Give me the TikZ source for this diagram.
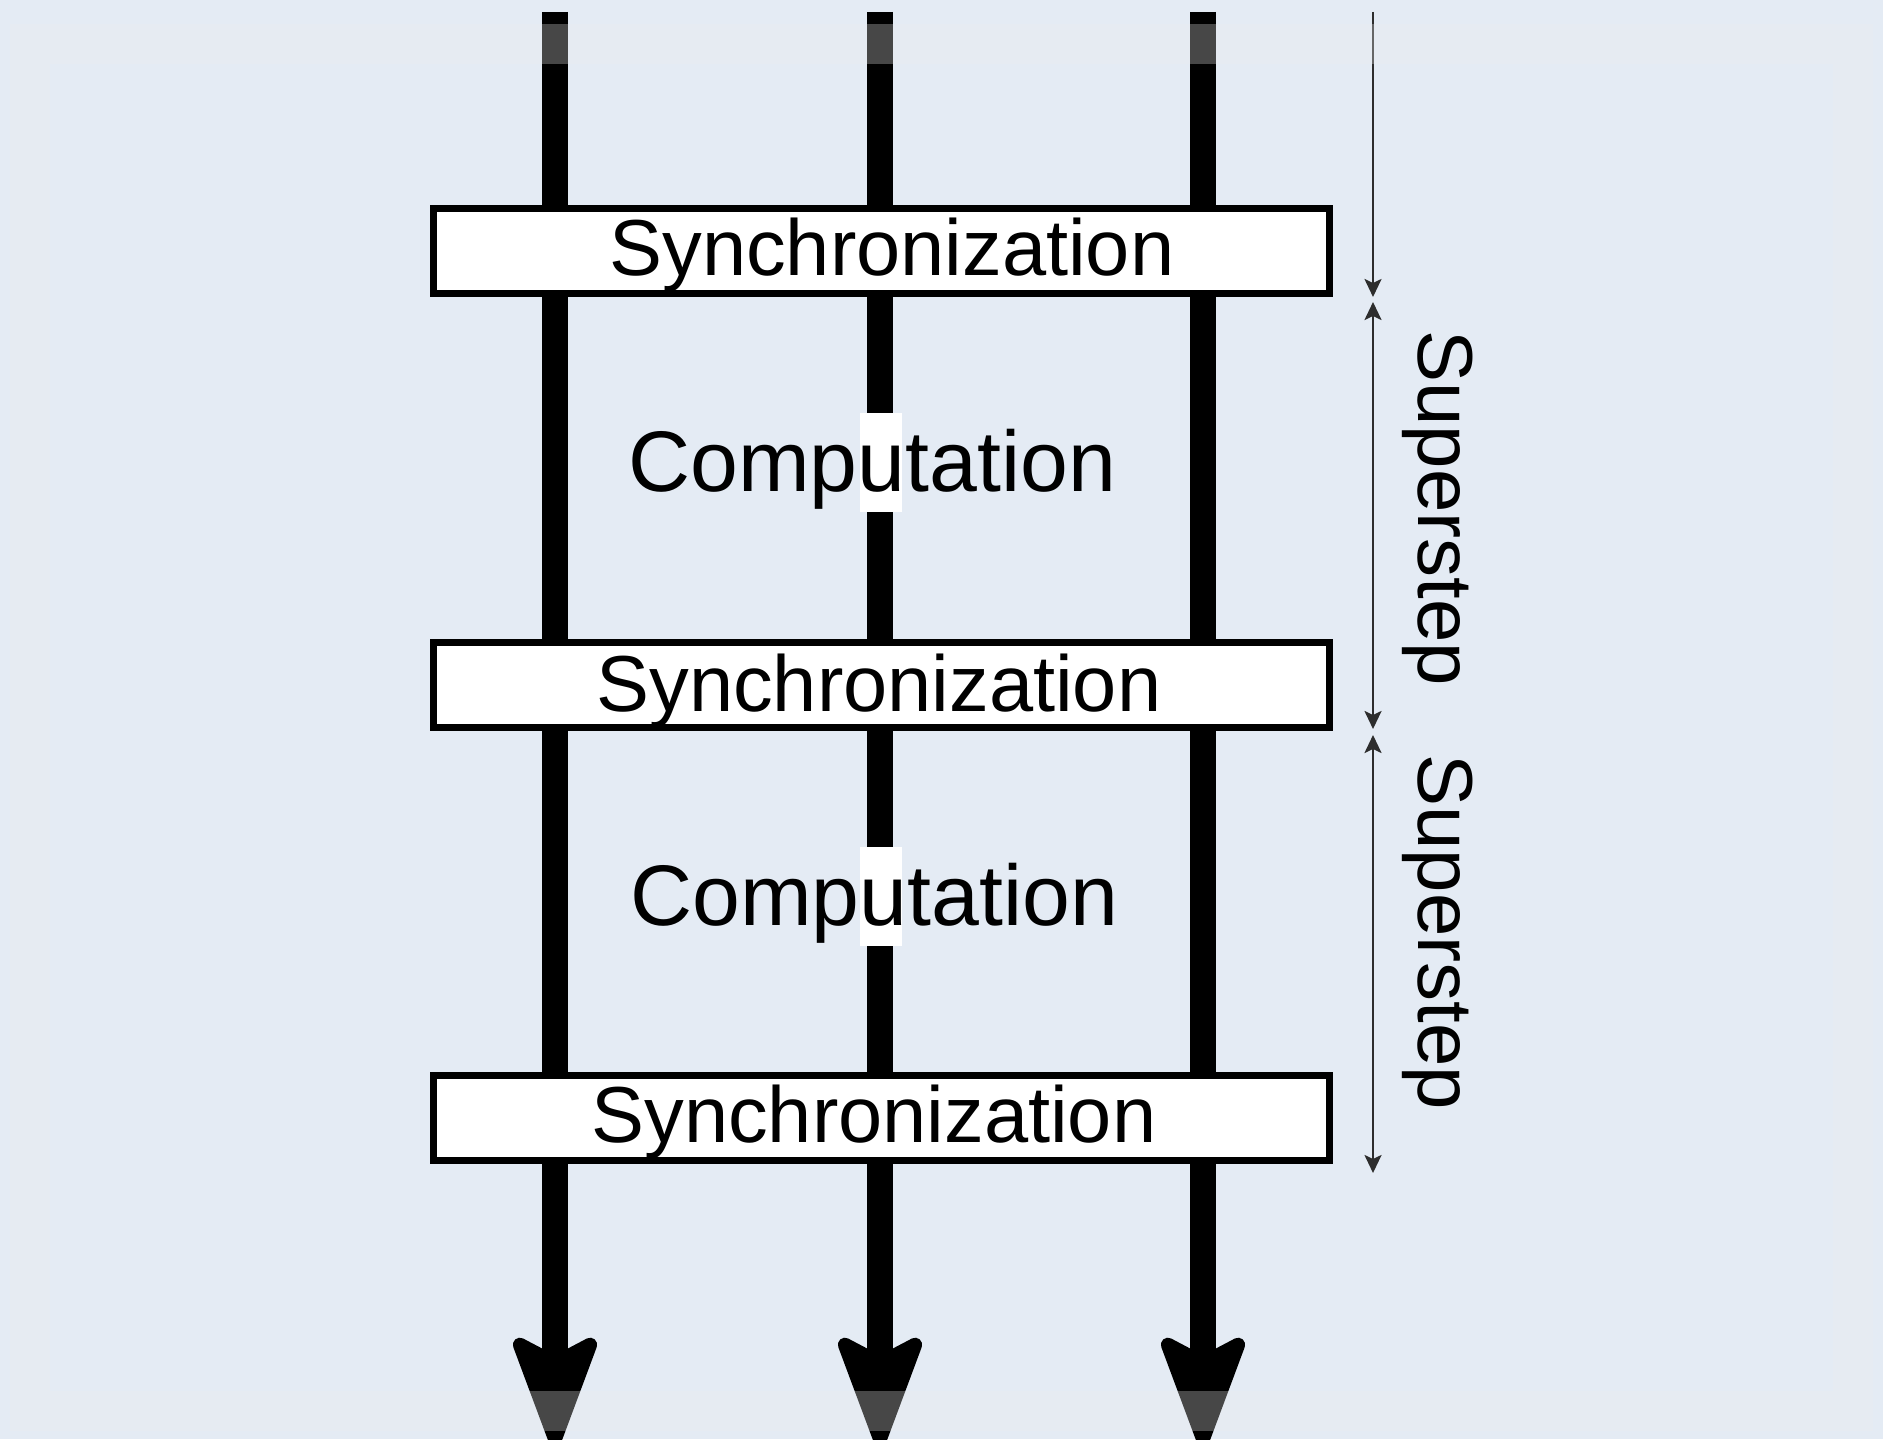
\documentclass[tikz,border=0pt]{standalone}
\usepackage{fontspec}
\setmainfont{Liberation Sans}
\usetikzlibrary{arrows.meta}

\definecolor{paper}{RGB}{228,235,244}
\definecolor{frameband}{RGB}{236,237,238}
\definecolor{dimgrey}{RGB}{45,45,45}

\tikzset{
  procline/.style={line width=13pt, black,
    -{Stealth[length=64pt, width=47pt, inset=12pt, line width=7pt, round]}},
  syncbox/.style={draw=black, line width=3.5pt, fill=white, inner sep=0pt,
    minimum width=448pt, minimum height=42.5pt},
  synctext/.style={inner sep=0pt, anchor=base west,
    font=\fontsize{39.7pt}{48pt}\selectfont},
  comptext/.style={inner sep=0pt, anchor=base west,
    font=\fontsize{43pt}{52pt}\selectfont},
  steptext/.style={inner sep=0pt, anchor=base west, rotate=-90,
    font=\fontsize{39pt}{47pt}\selectfont},
  dimtip/.style={line width=1.2pt, dimgrey},
  smalltip/.tip={Stealth[length=9pt, width=8.5pt, inset=2pt]},
}

\begin{document}
\begin{tikzpicture}[x=0.5pt, y=-0.5pt]
  % page
  \fill[paper] (0,0) rectangle (1883,1439);
  \useasboundingbox (0,0) rectangle (1883,1439);

  % process time lines
  \coordinate (p1top) at (555,12);  \coordinate (p1bot) at (555,1446);
  \coordinate (p2top) at (880,12);  \coordinate (p2bot) at (880,1446);
  \coordinate (p3top) at (1203,12); \coordinate (p3bot) at (1203,1446);
  \draw[procline] (p1top) -- (p1bot);
  \draw[procline] (p2top) -- (p2bot);
  \draw[procline] (p3top) -- (p3bot);

  % barrier boxes
  \node[syncbox] (s1) at (881.5,251) {};
  \node[syncbox] (s2) at (881.5,684.5) {};
  \node[syncbox] (s3) at (881.5,1117.5) {};
  \node[synctext] (t1) at (609,275) {Synchronization};
  \node[synctext] (t2) at (596,711) {Synchronization};
  \node[synctext] (t3) at (591,1142) {Synchronization};

  % computation phases
  \fill[white] (860,413) rectangle (902,512);
  \fill[white] (860,847) rectangle (902,946);
  \node[comptext] (c1) at (628,491) {Computation};
  \node[comptext] (c2) at (630,925) {Computation};

  % superstep extents
  \coordinate (d0) at (1373,12);
  \coordinate (d1) at (1373,297);
  \coordinate (d2) at (1373,302);
  \coordinate (d3) at (1373,729);
  \coordinate (d4) at (1373,735);
  \coordinate (d5) at (1373,1173);
  \draw[dimtip, -smalltip] (d0) -- (d1);
  \draw[dimtip, smalltip-smalltip] (d2) -- (d3);
  \draw[dimtip, smalltip-smalltip] (d4) -- (d5);
  \node[steptext] (ss1) at (1418,330) {Superstep};
  \node[steptext] (ss2) at (1418,754) {Superstep};

  % soft frame band
  \draw[frameband, opacity=0.3, line width=20pt] (30,44) rectangle (1853,1411);
\end{tikzpicture}
\end{document}
